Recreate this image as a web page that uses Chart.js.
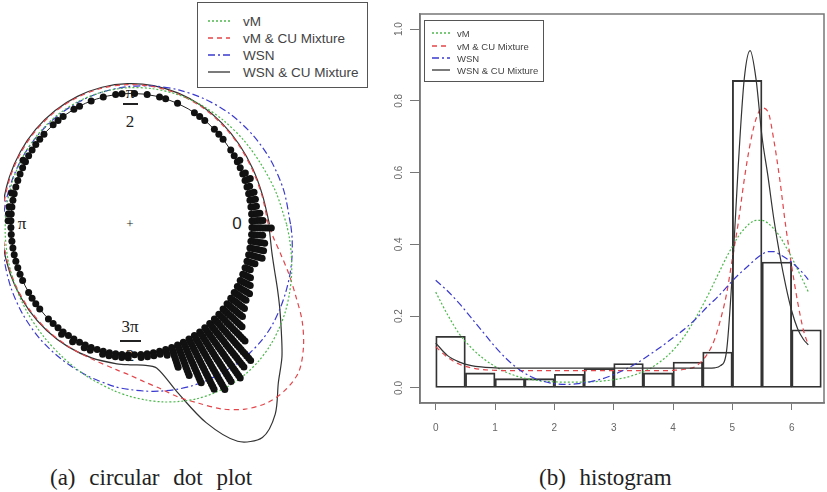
<!DOCTYPE html>
<html lang="en">
<head>
<meta charset="UTF-8">
<title>Circular dot plot and histogram</title>
<script src="https://cdn.jsdelivr.net/npm/chart.js"></script>
<style>
  body { margin:0; background:#fff; width:827px; height:492px; position:relative; overflow:hidden;
         font-family:"Liberation Sans", Arial, sans-serif; }
  canvas { position:absolute; z-index:2; }
  #polar { left:0; top:0; }
  #hist { left:380px; top:0; }
  .lab { position:absolute; transform:translate(-50%,-50%); font-family:"Liberation Serif", serif;
         color:#222; z-index:1; white-space:nowrap; }
  .bar { position:absolute; height:1.5px; background:#222; z-index:1; }
  .legend { position:absolute; border:1.8px solid #555; background:#fff; color:#444; z-index:3; }
  .legend .row { position:absolute; white-space:nowrap; }
  .legend svg { position:absolute; }
  .caption { position:absolute; font-family:"Liberation Serif", serif; font-size:23px; color:#222;
             white-space:nowrap; word-spacing:8px; transform:translateY(-50%); }
</style>
</head>
<body>

<!-- labels of the circular plot (under the dots) -->
<div class="lab" style="left:130px;top:93px;font-size:17px">&pi;</div>
<div class="bar" style="left:123px;top:103px;width:15px"></div>
<div class="lab" style="left:130px;top:122px;font-size:17px">2</div>
<div class="lab" style="left:22px;top:224px;font-size:17px">&pi;</div>
<div class="lab" style="left:237px;top:224px;font-size:17px;font-family:'Liberation Sans',sans-serif">0</div>
<div class="lab" style="left:130px;top:224px;font-size:13px">+</div>
<div class="lab" style="left:130px;top:327px;font-size:17px">3&pi;</div>
<div class="bar" style="left:120px;top:340px;width:21px"></div>
<div class="lab" style="left:130px;top:356px;font-size:17px">2</div>

<canvas id="polar" width="400" height="470"></canvas>
<canvas id="hist" width="447" height="445"></canvas>

<div class="legend" id="legA" style="left:197px;top:2px;width:169px;height:84px;font-size:13.5px"></div>
<div class="legend" id="legB" style="left:424px;top:20px;width:118px;height:60px;font-size:9.5px"></div>

<div class="caption" style="left:50px;top:478px">(a) circular dot plot</div>
<div class="caption" style="left:539px;top:478px">(b) histogram</div>

<script>
// histogram bins (width 0.5) and densities
const binMid = [0.25, 0.75, 1.25, 1.75, 2.25, 2.75, 3.25, 3.75, 4.25, 4.75, 5.25, 5.75, 6.25];
const binDensity = [0.144, 0.042, 0.026, 0.026, 0.038, 0.054, 0.068, 0.042, 0.072, 0.100, 0.857, 0.351, 0.162];

// angles where the fitted densities are read
const gridX = [0, 0.2, 0.4, 0.6, 0.8, 1.0, 1.2, 1.4, 1.6, 1.8, 2.0, 2.2, 2.4, 2.6, 2.8, 3.0, 3.2, 3.4, 3.6, 3.8,
               4.0, 4.2, 4.4, 4.6, 4.7, 4.8, 4.9, 5.0, 5.1, 5.2, 5.3, 5.4, 5.5, 5.6, 5.7, 5.8, 5.9, 6.0, 6.1, 6.2, 6.28];

const vM = [0.267, 0.204, 0.150, 0.112, 0.082, 0.060, 0.043, 0.031, 0.024, 0.019, 0.017, 0.016, 0.016, 0.017, 0.019,
            0.023, 0.029, 0.039, 0.053, 0.075, 0.105, 0.146, 0.200, 0.262, 0.296, 0.330, 0.364, 0.394, 0.422, 0.443,
            0.459, 0.467, 0.467, 0.459, 0.443, 0.422, 0.394, 0.364, 0.330, 0.296, 0.268];
const vMCU = [0.115, 0.085, 0.066, 0.056, 0.051, 0.049, 0.048, 0.048, 0.048, 0.048, 0.048, 0.048, 0.048, 0.048, 0.048,
              0.048, 0.048, 0.048, 0.048, 0.048, 0.049, 0.052, 0.062, 0.100, 0.135, 0.190, 0.260, 0.360, 0.460, 0.580,
              0.680, 0.750, 0.780, 0.770, 0.690, 0.580, 0.450, 0.340, 0.240, 0.160, 0.120];
const WSN = [0.300, 0.270, 0.235, 0.195, 0.155, 0.115, 0.080, 0.052, 0.032, 0.019, 0.012, 0.010, 0.012, 0.017, 0.025,
             0.037, 0.052, 0.070, 0.092, 0.115, 0.140, 0.165, 0.195, 0.230, 0.245, 0.262, 0.280, 0.298, 0.315, 0.330,
             0.345, 0.360, 0.372, 0.380, 0.380, 0.372, 0.362, 0.350, 0.335, 0.318, 0.302];
const WSNCU = [0.125, 0.090, 0.072, 0.062, 0.058, 0.056, 0.055, 0.055, 0.055, 0.055, 0.055, 0.055, 0.055, 0.055, 0.055,
               0.055, 0.055, 0.055, 0.055, 0.055, 0.055, 0.055, 0.055, 0.055, 0.056, 0.062, 0.100, 0.320, 0.620, 0.860,
               0.940, 0.860, 0.700, 0.590, 0.470, 0.370, 0.285, 0.215, 0.165, 0.135, 0.120];

// stacked dots of the circular plot: number of observations in each of 120 angular bins
const stackCounts = [
  5, 4, 3, 3, 3, 2, 3, 2, 1, 2,
  1, 1, 0, 1, 1, 1, 0, 1, 1,
  1, 0, 0, 1, 0, 1, 1, 0, 1, 0,
  1, 0, 1, 1, 0, 1, 0, 1, 0,
  1, 1, 0, 1, 1, 1, 0, 1, 1, 1,
  1, 1, 2, 1, 1, 1, 1, 2, 1,
  2, 2, 2, 1, 1, 1, 1, 1, 1, 1,
  1, 1, 0, 1, 1, 1, 1, 0, 1, 1,
  1, 2, 1, 2, 1, 2, 2, 1, 2,
  2, 2, 2, 2, 1, 2, 2, 2, 2, 3,
  8, 12, 16, 20, 22, 21, 22, 20, 20,
  14, 10, 8, 7, 6, 6, 5, 4, 3, 4,
  6, 6, 6, 5, 8
];

const xTicks = [0, 1, 2, 3, 4, 5, 6];
const yTicks = [0, 0.2, 0.4, 0.6, 0.8, 1.0];

const seriesNames = ['vM', 'vM & CU Mixture', 'WSN', 'WSN & CU Mixture'];
const seriesData = [vM, vMCU, WSN, WSNCU];
const seriesColors = ['#4cb84c', '#e4454a', '#3a3ad0', '#333333'];
const seriesDash = [[2, 2], [5, 4], [7, 3, 2, 3], []];

// ---------- circular plot ----------
const stackSep = 0.023;
const dotPts = [];
stackCounts.forEach((n, k) => {
  const a = (k + 0.5) * 2 * Math.PI / stackCounts.length;
  for (let j = 0; j < n; j++) {
    const r = 1 + stackSep * j;
    dotPts.push({ x: r * Math.cos(a), y: r * Math.sin(a) });
  }
});

function polarPoints(dens) {
  return gridX.map((a, i) => {
    const r = 1.02 + 1.0 * dens[i];
    return { x: r * Math.cos(a), y: r * Math.sin(a) };
  });
}

const ringPlugin = {
  id: 'ring',
  beforeDatasetsDraw(chart) {
    const { ctx, scales } = chart;
    const cx = scales.x.getPixelForValue(0), cy = scales.y.getPixelForValue(0);
    const rx = scales.x.getPixelForValue(1) - cx, ry = cy - scales.y.getPixelForValue(1);
    ctx.save();
    ctx.strokeStyle = '#222';
    ctx.lineWidth = 1;
    ctx.beginPath();
    ctx.ellipse(cx, cy, rx, ry, 0, 0, 2 * Math.PI);
    ctx.stroke();
    ctx.restore();
  }
};

const polarSets = [{
  data: dotPts, pointRadius: 3.5, pointBackgroundColor: '#111', pointBorderWidth: 0, showLine: false
}];
seriesData.forEach((d, i) => {
  polarSets.push({
    data: polarPoints(d), showLine: true, pointRadius: 0, borderColor: seriesColors[i],
    borderDash: seriesDash[i], borderWidth: 1.2, tension: 0.3, fill: false
  });
});

new Chart(document.getElementById('polar'), {
  type: 'scatter',
  data: { datasets: polarSets },
  options: {
    responsive: false, animation: false,
    layout: { padding: 0 },
    plugins: { legend: { display: false }, tooltip: { enabled: false } },
    scales: {
      x: { display: false, min: -1.057, max: 2.195 },
      y: { display: false, min: -1.85, max: 1.684 }
    }
  },
  plugins: [ringPlugin]
});

// ---------- histogram ----------
const boxPlugin = {
  id: 'box',
  afterDraw(chart) {
    const { ctx, chartArea: a } = chart;
    ctx.save();
    ctx.strokeStyle = '#777';
    ctx.lineWidth = 1.5;
    ctx.strokeRect(a.left, a.top, a.right - a.left, a.bottom - a.top);
    ctx.restore();
  }
};

const histSets = [{
  type: 'bar', data: binMid.map((m, i) => ({ x: m, y: binDensity[i] })),
  backgroundColor: 'rgba(0,0,0,0)', borderColor: '#333', borderWidth: 1.2, borderSkipped: false,
  barPercentage: 1, categoryPercentage: 1, order: 5
}];
seriesData.forEach((d, i) => {
  histSets.push({
    type: 'line', data: gridX.map((x, j) => ({ x: x, y: d[j] })), pointRadius: 0,
    borderColor: seriesColors[i], borderDash: seriesDash[i], borderWidth: 1.2,
    cubicInterpolationMode: 'monotone', fill: false, order: 4 - i
  });
});

new Chart(document.getElementById('hist'), {
  data: { datasets: histSets },
  options: {
    responsive: false, animation: false,
    layout: { padding: { top: 14, right: 3, left: 0, bottom: 0 } },
    plugins: { legend: { display: false }, tooltip: { enabled: false } },
    scales: {
      x: {
        type: 'linear', min: -0.265, max: 6.545, offset: false,
        afterBuildTicks: s => { s.ticks = xTicks.map(v => ({ value: v })); },
        afterFit: s => { s.height = 42; },
        grid: { drawOnChartArea: false, offset: false, tickLength: 7, color: '#777' },
        border: { color: '#777', width: 1.5 },
        ticks: { color: '#666', font: { size: 10 }, padding: 12, maxRotation: 0 }
      },
      y: {
        type: 'linear', min: -0.042, max: 1.042,
        afterBuildTicks: s => { s.ticks = yTicks.map(v => ({ value: v })); },
        afterFit: s => { s.width = 40; },
        grid: { drawOnChartArea: false, tickLength: 10, color: '#777' },
        border: { color: '#777', width: 1.5 },
        ticks: { color: '#666', font: { size: 10 }, padding: 4, minRotation: 90, maxRotation: 90,
                 crossAlign: 'center', callback: v => v.toFixed(1) }
      }
    }
  },
  plugins: [boxPlugin]
});

// ---------- legends ----------
function buildLegend(id, rowTops, lineX, lineLen, textX) {
  const box = document.getElementById(id);
  seriesNames.forEach((name, i) => {
    const svgNS = 'http://www.w3.org/2000/svg';
    const svg = document.createElementNS(svgNS, 'svg');
    svg.setAttribute('width', lineLen);
    svg.setAttribute('height', 4);
    svg.style.left = lineX + 'px';
    svg.style.top = (rowTops[i] - 2) + 'px';
    const ln = document.createElementNS(svgNS, 'line');
    ln.setAttribute('x1', 0); ln.setAttribute('x2', lineLen);
    ln.setAttribute('y1', 2); ln.setAttribute('y2', 2);
    ln.setAttribute('stroke', seriesColors[i]);
    ln.setAttribute('stroke-width', 1.3);
    if (seriesDash[i].length) ln.setAttribute('stroke-dasharray', seriesDash[i].join(' '));
    svg.appendChild(ln);
    box.appendChild(svg);
    const row = document.createElement('div');
    row.className = 'row';
    row.textContent = name;
    row.style.left = textX + 'px';
    row.style.top = rowTops[i] + 'px';
    row.style.transform = 'translateY(-50%)';
    box.appendChild(row);
  });
}
buildLegend('legA', [18, 35, 52, 69], 10, 22, 45);
buildLegend('legB', [12, 25, 37, 49], 7, 18, 32);
</script>
</body>
</html>
